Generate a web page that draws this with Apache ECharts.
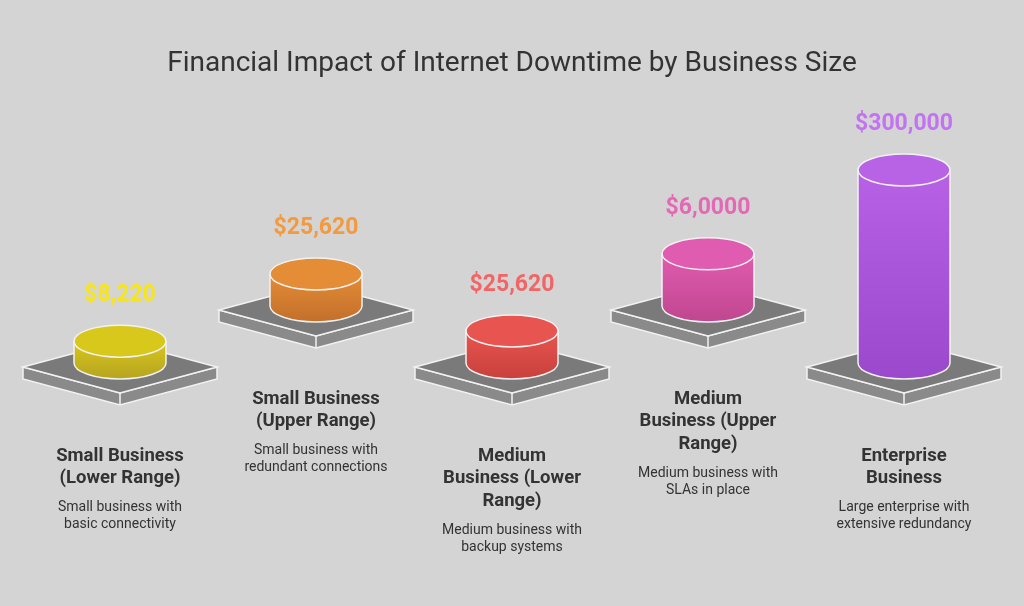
<!DOCTYPE html><html><head><meta charset="utf-8">
<script src="https://cdn.jsdelivr.net/npm/echarts@6/dist/echarts.min.js"></script>
<style>html,body{margin:0;background:#d4d4d4}#c{width:1024px;height:606px}</style></head><body><div id="c"></div>
<script>
const categories=['Small Business\n(Lower Range)','Small Business\n(Upper Range)','Medium\nBusiness (Lower\nRange)','Medium\nBusiness (Upper\nRange)','Enterprise\nBusiness'];
const values=[8220,25620,25620,60000,300000];
const valueLabels=['$8,220','$25,620','$25,620','$6,0000','$300,000'];
const descriptions=['Small business with\nbasic connectivity','Small business with\nredundant connections','Medium business with\nbackup systems','Medium business with\nSLAs in place','Large enterprise with\nextensive redundancy'];
const colors=[['#d9c81c','#b5a321','#f7e51c'],['#e48c36','#c26f2b','#f4993c'],['#e85550','#c8403c','#f36464'],['#e05cb0','#c0468f','#e468b6'],['#b862e6','#9a48cc','#c272f2']];
const chart=echarts.init(document.getElementById('c'));
chart.setOption({
 backgroundColor:'#d4d4d4',
 title:{text:'Financial Impact of Internet Downtime by Business Size',left:'center',top:45,textStyle:{fontFamily:'Roboto',fontWeight:'normal',fontSize:28,color:'#333'}},
 grid:{left:22,width:980,top:100,height:176},
 xAxis:{type:'category',data:categories,show:false},
 yAxis:{type:'value',min:0,max:300000,show:false},
 series:[{type:'custom',data:values.map((v,i)=>[i,v]),renderItem:function(params,api){
  const i=api.value(0),v=api.value(1);
  const cx=api.coord([i,0])[0];
  const up=i%2===1;
  const by=up?310:367;
  const hw=97,hh=26,th=12;
  const h=17+api.size([0,v])[1];
  const rx=46,ry=16;
  const cb=by-4, ct=cb-h;
  const c=colors[i];
  const ch=[];
  ch.push({type:'polygon',shape:{points:[[cx-hw,by],[cx,by+hh],[cx+hw,by],[cx+hw,by+th],[cx,by+hh+th],[cx-hw,by+th]]},style:{fill:'#8a8a8a',stroke:'#f2f2f2',lineWidth:1.5}});
  ch.push({type:'polyline',shape:{points:[[cx,by+hh],[cx,by+hh+th]]},style:{stroke:'#f2f2f2',lineWidth:1.5}});
  ch.push({type:'polygon',shape:{points:[[cx-hw,by],[cx,by-hh],[cx+hw,by],[cx,by+hh]]},style:{fill:'#7a7a7a',stroke:'#f2f2f2',lineWidth:1.5}});
  ch.push({type:'path',shape:{pathData:`M${cx-rx},${ct} L${cx-rx},${cb} A${rx},${ry} 0 0 0 ${cx+rx},${cb} L${cx+rx},${ct} Z`},style:{fill:new echarts.graphic.LinearGradient(0,0,0,1,[{offset:0,color:c[0]},{offset:1,color:c[1]}]),stroke:'#f2f2f2',lineWidth:1.5}});
  ch.push({type:'ellipse',shape:{cx:cx,cy:ct,rx:rx,ry:ry},style:{fill:c[0],stroke:'#f2f2f2',lineWidth:1.5}});
  ch.push({type:'text',style:{text:valueLabels[i],x:cx,y:ct-46,align:'center',verticalAlign:'middle',font:'bold 23px Roboto',fill:c[2]}});
  const lines=categories[i].split('\n').length;
  const ty=up?388:445;
  ch.push({type:'text',style:{text:categories[i],x:cx,y:ty,align:'center',verticalAlign:'top',font:'bold 18.5px Roboto',lineHeight:22.5,fill:'#333'}});
  ch.push({type:'text',style:{text:descriptions[i],x:cx,y:ty+lines*22.5+9,align:'center',verticalAlign:'top',font:'14px Roboto',lineHeight:17,fill:'#333'}});
  return {type:'group',children:ch};
 }}]
});
</script></body></html>
